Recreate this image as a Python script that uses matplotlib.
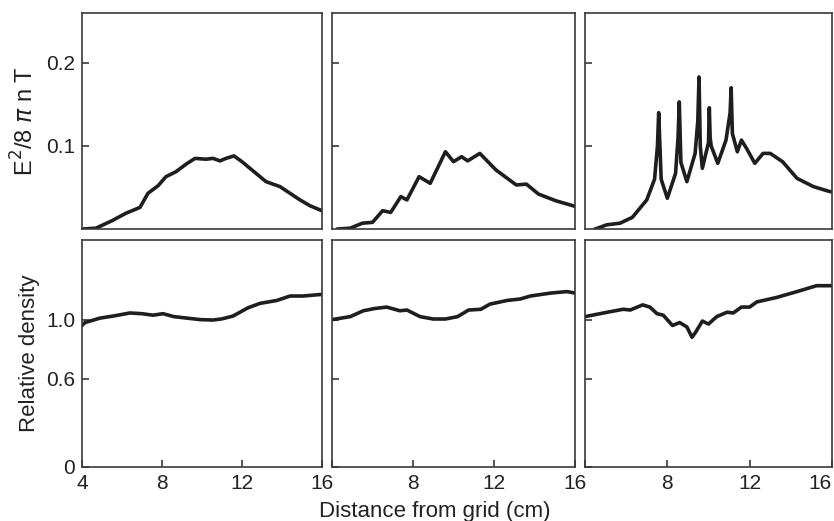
import numpy as np
import matplotlib.pyplot as plt

plt.rcParams['font.family'] = ['Liberation Sans', 'DejaVu Sans']

# field energy, top row (x in cm, E^2/8 pi n T)
e1_x = [4.05, 4.7, 5.5, 6.2, 6.9, 7.3, 7.8, 8.2, 8.7, 9.2, 9.65, 10.2, 10.55, 10.9, 11.2, 11.6, 12.0, 12.4, 12.8, 13.2, 13.9, 14.4, 14.9, 15.4, 15.9, 16.0]
e1_y = [0.0, 0.001, 0.010, 0.019, 0.026, 0.043, 0.052, 0.063, 0.069, 0.078, 0.085, 0.084, 0.085, 0.082, 0.085, 0.088, 0.081, 0.073, 0.065, 0.057, 0.051, 0.043, 0.035, 0.028, 0.023, 0.022]

e2_x = [4.3, 4.9, 5.5, 6.0, 6.5, 6.9, 7.4, 7.7, 8.3, 8.85, 9.6, 10.0, 10.4, 10.7, 11.3, 11.7, 12.1, 12.6, 13.1, 13.6, 14.2, 15.05, 15.9, 16.0]
e2_y = [0.0, 0.001, 0.007, 0.008, 0.022, 0.020, 0.039, 0.035, 0.063, 0.055, 0.093, 0.081, 0.087, 0.082, 0.091, 0.081, 0.071, 0.062, 0.053, 0.054, 0.042, 0.034, 0.028, 0.027]

e3_x = [4.5, 5.05, 5.7, 6.3, 7.0, 7.38, 7.52, 7.58, 7.7, 8.0, 8.4, 8.52, 8.58, 8.66, 8.95, 9.35, 9.48, 9.54, 9.6, 9.7, 10.0, 10.04, 10.08, 10.13, 10.45, 10.85, 11.05, 11.1, 11.16, 11.4, 11.6, 11.85, 12.25, 12.65, 13.0, 13.6, 14.3, 15.1, 15.9, 16.0]
e3_y = [0.0, 0.005, 0.007, 0.014, 0.035, 0.060, 0.100, 0.140, 0.060, 0.037, 0.067, 0.110, 0.153, 0.080, 0.057, 0.091, 0.130, 0.183, 0.100, 0.073, 0.104, 0.146, 0.110, 0.100, 0.079, 0.107, 0.140, 0.170, 0.115, 0.093, 0.107, 0.097, 0.079, 0.091, 0.091, 0.081, 0.061, 0.051, 0.045, 0.045]

# relative density, bottom row
n1_x = [4.0, 4.15, 4.9, 5.6, 6.4, 7.0, 7.55, 8.05, 8.6, 9.25, 9.9, 10.55, 11.0, 11.55, 12.3, 12.9, 13.75, 14.4, 15.05, 15.9, 16.0]
n1_y = [0.96, 0.98, 1.01, 1.025, 1.045, 1.04, 1.03, 1.04, 1.02, 1.01, 1.0, 0.997, 1.005, 1.024, 1.08, 1.11, 1.13, 1.16, 1.16, 1.17, 1.17]

n2_x = [4.0, 4.9, 5.55, 6.1, 6.7, 7.35, 7.7, 8.35, 9.0, 9.6, 10.2, 10.75, 11.35, 11.8, 12.65, 13.3, 13.8, 14.8, 15.6, 16.0]
n2_y = [1.0, 1.02, 1.06, 1.075, 1.085, 1.06, 1.065, 1.02, 1.004, 1.004, 1.02, 1.065, 1.07, 1.105, 1.13, 1.14, 1.16, 1.18, 1.19, 1.18]

n3_x = [4.0, 4.9, 5.85, 6.2, 6.8, 7.15, 7.5, 7.8, 8.25, 8.6, 8.95, 9.2, 9.4, 9.7, 10.0, 10.4, 10.9, 11.2, 11.6, 12.0, 12.35, 13.3, 14.3, 15.25, 15.9, 16.0]
n3_y = [1.02, 1.045, 1.07, 1.065, 1.10, 1.085, 1.04, 1.03, 0.96, 0.98, 0.95, 0.88, 0.92, 0.99, 0.97, 1.02, 1.05, 1.045, 1.085, 1.085, 1.12, 1.15, 1.19, 1.23, 1.23, 1.23]

x_ticks = [4, 8, 12, 16]
e_ticks = [0.1, 0.2]
n_ticks = [0, 0.6, 1.0]

fig = plt.figure(figsize=(8.34, 5.21), dpi=100)

# column left / width in pixels
cols = [(82, 240), (332, 243), (585, 247)]
W, H = 834.0, 521.0
top_row = (13, 229)
bot_row = (240, 467)

lc = '#1e1e1e'
fc = '#3a3a3a'
tc = '#222222'
fs = 15

e_data = [(e1_x, e1_y), (e2_x, e2_y), (e3_x, e3_y)]
n_data = [(n1_x, n1_y), (n2_x, n2_y), (n3_x, n3_y)]

for i, (left, width) in enumerate(cols):
    for row, (y0, y1) in enumerate([top_row, bot_row]):
        ax = fig.add_axes([left / W, 1 - y1 / H, width / W, (y1 - y0) / H])
        if row == 0:
            x, y = e_data[i]
            ax.set_ylim(0, 0.26)
            ax.set_yticks(e_ticks)
            ax.set_xticks([])
        else:
            x, y = n_data[i]
            ax.set_ylim(0, 1.54)
            ax.set_yticks(n_ticks)
            ax.set_xticks(x_ticks)
            if i == 0:
                ax.set_xticklabels([str(t) for t in x_ticks])
            else:
                ax.set_xticklabels([''] + [str(t) for t in x_ticks[1:]])
        ax.plot(x, y, color=lc, lw=2.6, solid_joinstyle='round')
        ax.set_xlim(4, 16)
        ax.tick_params(direction='in', length=5, width=1.2, colors=fc,
                       labelsize=fs, labelcolor=tc, pad=5,
                       top=False, right=False)
        if i == 0:
            ax.set_yticklabels(['0' if t == 0 else f'{t:.1f}' for t in ax.get_yticks()])
        else:
            ax.set_yticklabels([])
        if i == 2 and row == 1:
            ax.get_xticklabels()[-1].set_ha('right')
        for s in ax.spines.values():
            s.set_color(fc)
            s.set_linewidth(1.2)
        if i == 0 and row == 0:
            ax.set_ylabel(r'E$^2$/8 $\pi$ n T', fontsize=fs + 2, color=tc, labelpad=5)
        if i == 0 and row == 1:
            ax.set_ylabel('Relative density', fontsize=fs + 1, color=tc, labelpad=4)

fig.text(435 / W, 1 - 511 / H, 'Distance from grid (cm)', ha='center', va='center',
         fontsize=fs + 1, color=tc)

fig.savefig('out.png', dpi=100)
